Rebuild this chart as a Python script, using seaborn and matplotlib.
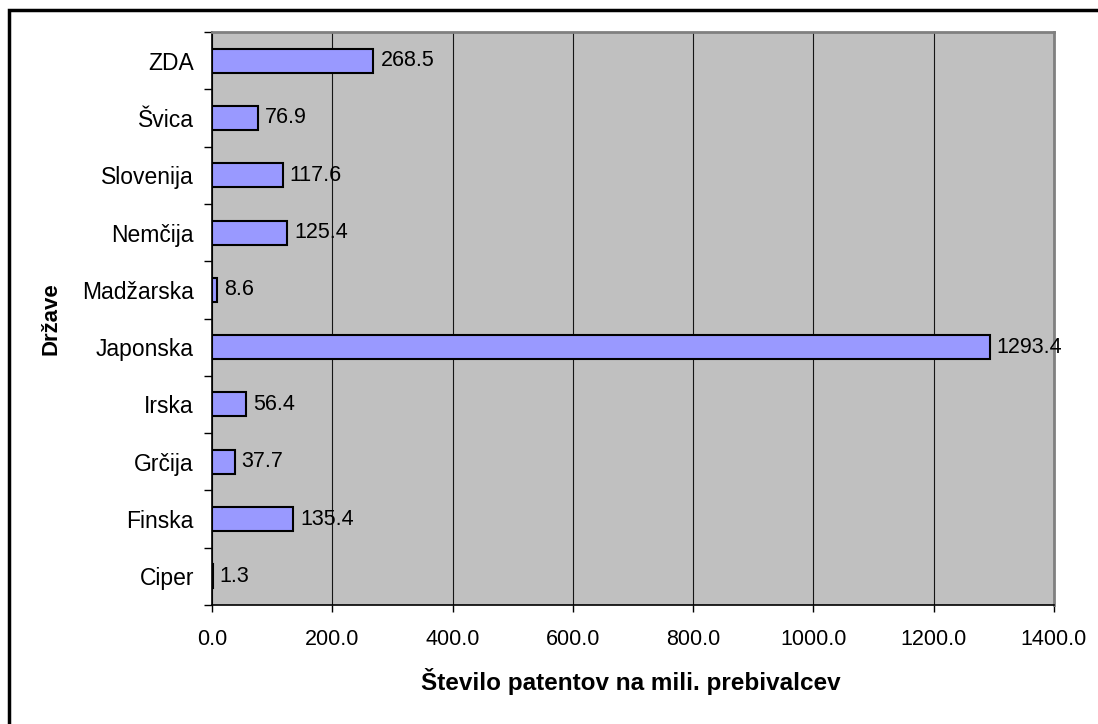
import matplotlib
matplotlib.use('Agg')
import matplotlib.pyplot as plt
import seaborn as sns
import pandas as pd
from matplotlib.patches import Rectangle

drzave = ['ZDA', 'Švica', 'Slovenija', 'Nemčija', 'Madžarska',
          'Japonska', 'Irska', 'Grčija', 'Finska', 'Ciper']
patenti = [268.5, 76.9, 117.6, 125.4, 8.6, 1293.4, 56.4, 37.7, 135.4, 1.3]
x_ticks = [0, 200, 400, 600, 800, 1000, 1200, 1400]

df = pd.DataFrame({'drzava': drzave, 'patenti': patenti})

sns.set_style('white')
plt.rcParams['font.family'] = ['Liberation Sans', 'DejaVu Sans']
plt.rcParams['text.color'] = 'black'
plt.rcParams['xtick.color'] = 'black'
plt.rcParams['ytick.color'] = 'black'
plt.rcParams['axes.labelcolor'] = 'black'

fig = plt.figure(figsize=(10.98, 7.24), dpi=100)
ax = fig.add_axes([212/1098, 1-605/724, (1054-212)/1098, (605-32)/724])

sns.barplot(data=df, x='patenti', y='drzava', orient='h',
            color='#9999FF', edgecolor='black', linewidth=1.5,
            width=0.42, saturation=1, ax=ax)

ax.set_facecolor('#C0C0C0')
ax.set_xlim(0, 1400)
ax.set_ylim(len(drzave) - 0.5, -0.5)
ax.set_xticks(x_ticks)
ax.set_xticklabels([f'{v:.1f}' for v in x_ticks], fontsize=15.5)
ax.tick_params(axis='x', direction='out', length=5, width=1, pad=12, bottom=True)

# kljukice med kategorijami
ax.set_yticks(range(len(drzave)))
ax.set_yticklabels(drzave, fontsize=16.5)
ax.tick_params(axis='y', which='major', length=0, pad=13)
ax.set_yticks([i - 0.5 for i in range(len(drzave) + 1)], minor=True)
ax.tick_params(axis='y', which='minor', direction='out', length=6, width=1, left=True)

ax.grid(axis='x', color='#151515', linewidth=0.8)
ax.set_axisbelow(True)

for s in ['left', 'bottom']:
    ax.spines[s].set_color('black')
    ax.spines[s].set_linewidth(1.2)
for s in ['top', 'right']:
    ax.spines[s].set_color('#808080')
    ax.spines[s].set_linewidth(2)

ax.bar_label(ax.containers[0], fmt='%.1f', padding=5, fontsize=15.5)

ax.set_xlabel('Število patentov na mili. prebivalcev', fontsize=17.5,
              fontweight='bold')
ax.xaxis.set_label_coords((631 - 212) / 842, -(668 - 605) / 573)
ax.set_ylabel('Države', fontsize=16, fontweight='bold')
ax.yaxis.set_label_coords(-(212 - 62) / 842, 0.5)

fig.patches.append(Rectangle((9/1098, -0.1), 1.2, 1 - 10/724 + 0.1,
                             transform=fig.transFigure, fill=False,
                             edgecolor='black', linewidth=2.5))

fig.savefig('out.png', dpi=100)
